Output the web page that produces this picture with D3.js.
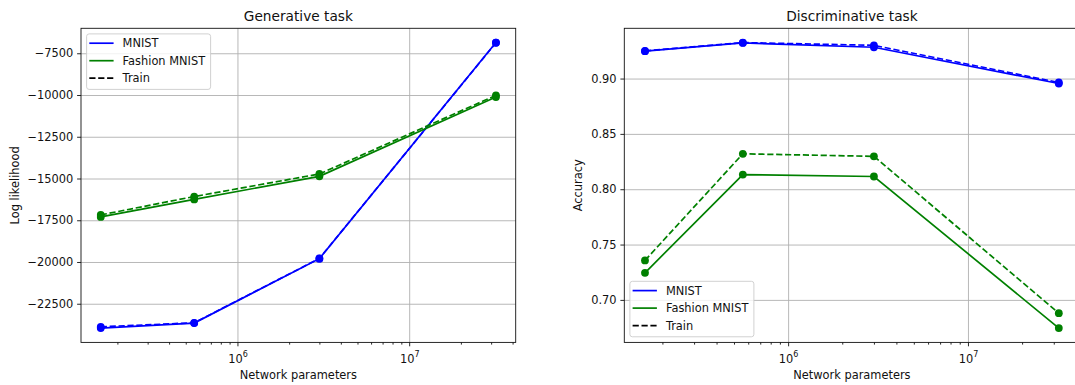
<!DOCTYPE html>
<html>
<head>
<meta charset="utf-8">
<script src="https://cdn.jsdelivr.net/npm/d3@7"></script>
<style>
  body { margin: 0; background: #fff; }
  svg text { font-family: "DejaVu Sans", sans-serif; fill: #111; }
</style>
</head>
<body>
<div id="chart"></div>
<script>
// values
const params = [1.6e5, 5.6e5, 3.0e6, 3.2e7]          // network parameters (x, log)

// generative task: log likelihood
const genMnistTest = [-23960, -23660, -19800, -6860]
const genMnistTrain = [-23880, -23640, -19790, -6870]
const genFashionTest = [-17300, -16250, -14870, -10120]
const genFashionTrain = [-17180, -16080, -14730, -10020]
const genYTicks = [-22500, -20000, -17500, -15000, -12500, -10000, -7500]

// discriminative task: accuracy
const disMnistTest = [0.9247, 0.9322, 0.9283, 0.8955]
const disMnistTrain = [0.9250, 0.9325, 0.9300, 0.8965]
const disFashionTest = [0.7245, 0.8132, 0.8115, 0.6745]
const disFashionTrain = [0.7357, 0.8320, 0.8297, 0.6880]
const disYTicks = [0.70, 0.75, 0.80, 0.85, 0.90]

const xMajor = [1e6, 1e7]
const datasets = ["MNIST", "Fashion MNIST"]
const legendLabels = ["MNIST", "Fashion MNIST", "Train"]

/* CONSTANTS */
const width = 1075
const height = 385
const color = d3.scaleOrdinal().domain(datasets).range(["#0000ff", "#008000"])
const dash = "6.2,2.7"
const fs = 11.4

const svg = d3.select("#chart").append("svg")
  .attr("width", width)
  .attr("height", height)

function drawPanel(o) {
  const g = svg.append("g")

  // SCALES (matplotlib style 5% margins)
  const allY = o.series.flatMap(s => s.values)
  const [y0, y1] = d3.extent(allY)
  const yPad = (y1 - y0) * 0.05
  const y = d3.scaleLinear().domain([y0 - yPad, y1 + yPad]).range([o.bottom, o.top])

  const [lx0, lx1] = d3.extent(params).map(Math.log10)
  const xPad = (lx1 - lx0) * 0.05
  const x = d3.scaleLog().domain([10 ** (lx0 - xPad), 10 ** (lx1 + xPad)]).range([o.left, o.right])

  // GRID
  g.append("g")
    .attr("transform", `translate(0,${o.bottom})`)
    .call(d3.axisBottom(x).tickValues(xMajor).tickSize(-(o.bottom - o.top)).tickFormat(""))
    .call(s => s.select(".domain").remove())
    .selectAll("line").attr("stroke", "#b0b0b0").attr("stroke-width", 0.9)
  g.append("g")
    .attr("transform", `translate(${o.left},0)`)
    .call(d3.axisLeft(y).tickValues(o.yTicks).tickSize(-(o.right - o.left)).tickFormat(""))
    .call(s => s.select(".domain").remove())
    .selectAll("line").attr("stroke", "#b0b0b0").attr("stroke-width", 0.9)

  // LINES + POINTS
  const line = d3.line()
    .x((d, i) => x(params[i]))
    .y(d => y(d))

  o.series.forEach(s => {
    g.append("path")
      .attr("d", line(s.values))
      .attr("fill", "none")
      .attr("stroke", color(s.name))
      .attr("stroke-width", 1.7)
      .attr("stroke-dasharray", s.train ? dash : null)
    g.append("g")
      .selectAll("circle")
      .data(s.values)
      .join("circle")
        .attr("cx", (d, i) => x(params[i]))
        .attr("cy", d => y(d))
        .attr("r", 3.9)
        .attr("fill", color(s.name))
  })

  // AXES
  const xAxisG = g.append("g")
    .attr("transform", `translate(0,${o.bottom})`)
    .call(d3.axisBottom(x).tickValues(xMajor).tickSize(3.9).tickPadding(3.9))
  xAxisG.select(".domain").remove()
  xAxisG.selectAll("text")
    .attr("y", 20.5).attr("dy", 0)
    .attr("font-size", fs)
    .each(function (d) {
      const t = d3.select(this).text("")
      t.append("tspan").text("10")
      t.append("tspan").attr("dy", -6).attr("font-size", 8).text(Math.round(Math.log10(d)))
    })

  const minor = []
  for (let e = 5; e <= 7; e++) for (let m = 2; m <= 9; m++) minor.push(m * 10 ** e)
  const xd = x.domain()
  g.append("g")
    .attr("transform", `translate(0,${o.bottom})`)
    .call(d3.axisBottom(x).tickValues(minor.filter(v => v > xd[0] && v < xd[1])).tickSize(2.2).tickFormat(""))
    .call(s => s.select(".domain").remove())

  const yAxisG = g.append("g")
    .attr("transform", `translate(${o.left},0)`)
    .call(d3.axisLeft(y).tickValues(o.yTicks).tickSize(3.9).tickPadding(3.9).tickFormat(o.yFormat))
  yAxisG.select(".domain").remove()
  yAxisG.selectAll("text").attr("font-size", fs).attr("font-family", null)
  g.selectAll(".tick line").filter(function () { return !this.getAttribute("stroke") || this.getAttribute("stroke") === "currentColor" })
    .attr("stroke", "#111").attr("stroke-width", 0.9)

  // SPINES
  g.append("rect")
    .attr("x", o.left).attr("y", o.top)
    .attr("width", o.right - o.left).attr("height", o.bottom - o.top)
    .attr("fill", "none").attr("stroke", "#111").attr("stroke-width", 0.9)

  // LABELS
  g.append("text")
    .attr("x", (o.left + o.right) / 2).attr("y", 21)
    .attr("text-anchor", "middle").attr("font-size", 13.7)
    .text(o.title)
  g.append("text")
    .attr("x", (o.left + o.right) / 2).attr("y", 379)
    .attr("text-anchor", "middle").attr("font-size", fs)
    .text("Network parameters")
  g.append("text")
    .attr("transform", `translate(${o.yLabelX},${(o.top + o.bottom) / 2}) rotate(-90)`)
    .attr("text-anchor", "middle").attr("font-size", fs)
    .text(o.yLabel)

  // LEGEND
  const lw = 124, lh = 55.5
  const lx = o.left + 5.6
  const ly = o.legendTop ? o.top + 5.6 : o.bottom - 5.6 - lh
  const leg = g.append("g").attr("transform", `translate(${lx},${ly})`)
  leg.append("rect")
    .attr("width", lw).attr("height", lh).attr("rx", 2.5)
    .attr("fill", "#fff").attr("fill-opacity", 0.8)
    .attr("stroke", "#cccccc").attr("stroke-width", 0.9)
  const rows = leg.selectAll(".row")
    .data(legendLabels)
    .join("g")
      .attr("transform", (d, i) => `translate(0,${9.3 + i * 17.5})`)
  rows.append("line")
    .attr("x1", 2.7).attr("x2", 27)
    .attr("stroke", d => d === "Train" ? "#000" : color(d))
    .attr("stroke-width", 1.7)
    .attr("stroke-dasharray", d => d === "Train" ? dash : null)
  rows.append("text")
    .attr("x", 36).attr("y", 4).attr("font-size", fs)
    .text(d => d)
}

drawPanel({
  left: 81, right: 515.7, top: 28.3, bottom: 342.4,
  title: "Generative task", yLabel: "Log likelihood", yLabelX: 18.5,
  yTicks: genYTicks, yFormat: d3.format("d"), legendTop: true,
  series: [
    { name: "MNIST", train: false, values: genMnistTest },
    { name: "MNIST", train: true, values: genMnistTrain },
    { name: "Fashion MNIST", train: false, values: genFashionTest },
    { name: "Fashion MNIST", train: true, values: genFashionTrain }
  ]
})

drawPanel({
  left: 624.3, right: 1079.5, top: 28.3, bottom: 342.4,
  title: "Discriminative task", yLabel: "Accuracy", yLabelX: 582,
  yTicks: disYTicks, yFormat: d3.format(".2f"), legendTop: false,
  series: [
    { name: "MNIST", train: false, values: disMnistTest },
    { name: "MNIST", train: true, values: disMnistTrain },
    { name: "Fashion MNIST", train: false, values: disFashionTest },
    { name: "Fashion MNIST", train: true, values: disFashionTrain }
  ]
})
</script>
</body>
</html>
